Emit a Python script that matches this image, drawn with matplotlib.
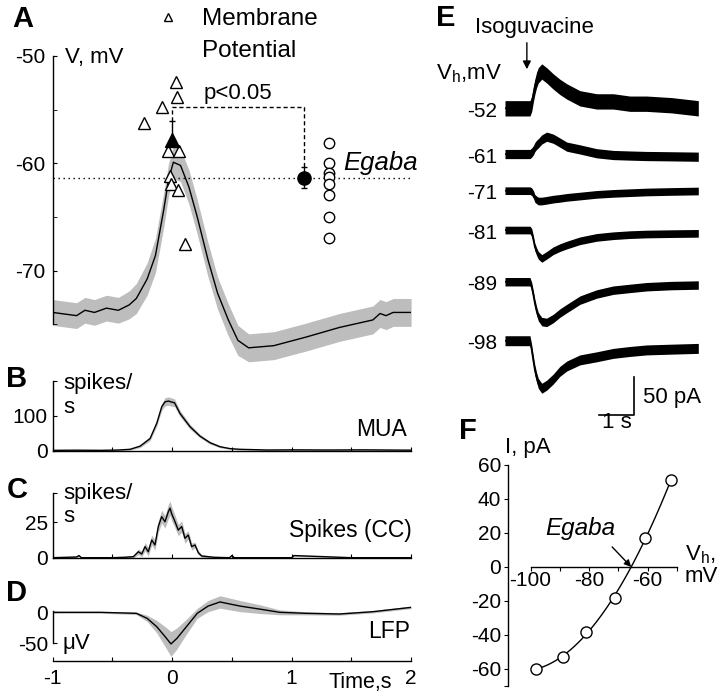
import numpy as np
import matplotlib
matplotlib.use('Agg')
import matplotlib.pyplot as plt
from matplotlib.lines import Line2D

plt.rcParams['font.family'] = 'Liberation Sans'
plt.rcParams['axes.unicode_minus'] = False
plt.rcParams['mathtext.fontset'] = 'custom'
plt.rcParams['mathtext.rm'] = 'Liberation Sans'
plt.rcParams['axes.linewidth'] = 1.0

W, H = 720, 696
GREY = '#bdbdbd'
FS = 15

# ---------------- data ----------------
# A: averaged membrane potential (mV) around the event
t_vm = [-1, -0.80, -0.73, -0.65, -0.55, -0.45, -0.36, -0.30, -0.21, -0.14, -0.07,
        -0.03, 0.01, 0.07, 0.14, 0.21, 0.30, 0.38, 0.47, 0.55, 0.64, 0.85, 1.12,
        1.40, 1.68, 1.74, 1.79, 1.85, 2.0]
vm_mean = [-73.9, -74.2, -73.7, -73.9, -73.5, -73.7, -73.2, -72.6, -70.8, -68.6, -64.3,
           -61.5, -59.9, -60.2, -62.2, -65.0, -69.0, -72.1, -74.6, -76.5, -77.2, -77.0,
           -76.2, -75.3, -74.6, -74.0, -74.2, -73.9, -73.9]
vm_sem = [1.2, 1.2, 1.2, 1.2, 1.2, 1.2, 1.3, 1.4, 1.5, 1.6, 1.6,
          1.5, 1.5, 1.5, 1.6, 1.6, 1.6, 1.5, 1.5, 1.4, 1.3, 1.3,
          1.3, 1.3, 1.3, 1.3, 1.3, 1.3, 1.3]
# peak membrane potential of individual cells
tri_t = [-0.233, -0.088, 0.030, 0.038, -0.032, 0.057, -0.018, -0.013, 0.046, 0.107]
tri_v = [-56.2, -54.8, -52.4, -53.8, -58.9, -58.9, -61.2, -61.9, -62.5, -67.5]
tri_mean, tri_err = -57.8, 1.7
# Egaba of individual cells and mean
egaba_t, egaba_mean, egaba_err = 1.1, -61.34, 1.0
cells_t = 1.31
cells_egaba = [-58.1, -60.0, -60.9, -61.3, -61.9, -63.0, -65.0, -67.0]
bracket_v = -54.72

# B: MUA (spikes/s)
t_mua = [-1, -0.8, -0.6, -0.45, -0.353, -0.269, -0.185, -0.129, -0.087, -0.059, -0.03,
         -0.003, 0.02, 0.066, 0.15, 0.233, 0.317, 0.40, 0.484, 0.568, 0.8, 1.0, 1.3,
         1.6, 2.0]
mua = [1, 1.5, 1, 2, 4, 13, 35, 79, 127, 141, 143, 140, 138, 107, 69, 42, 23, 11.5,
       6, 4, 2, 2.5, 2, 2.5, 1.5]
mua_sem = [1, 1, 1, 1, 2, 4, 6, 8, 10, 12, 12, 12, 11, 9, 7, 5, 4, 3, 2, 2, 1, 1, 1,
           1, 1]

# C: spikes in current clamp (spikes/s)
t_cc = [-1, -0.80, -0.78, -0.76, -0.5, -0.40, -0.325, -0.283, -0.255, -0.227, -0.2,
        -0.171, -0.144, -0.116, -0.088, -0.06, -0.032, -0.018, -0.004, 0.024, 0.051,
        0.08, 0.107, 0.135, 0.163, 0.191, 0.219, 0.247, 0.35, 0.48, 0.50, 0.52, 0.9,
        1.0, 1.02, 1.5, 2.0]
cc = [0, 0.5, 1.5, 0, 0, 0.3, 0.7, 4.2, 2.6, 7.8, 4.2, 12.5, 9, 22, 29, 25.4, 32.5,
      35, 31, 25.4, 19.5, 22, 13.7, 16, 7.8, 9, 3.5, 1.2, 0.3, 0, 1.5, 0, 0, 0, 1.5,
      0, 0]
cc_sem = [0.5] * 6 + [1, 2, 2, 3, 3, 3.5, 3.5, 4, 4.5, 4.5, 5, 5, 5, 4.5, 4, 4, 3.5,
                      3, 2.5, 2, 1.5, 1] + [0.5] * 9

# D: LFP (uV)
t_lfp = [-1, -0.6, -0.3, -0.21, -0.13, -0.06, -0.01, 0.04, 0.12, 0.21, 0.30, 0.40,
         0.57, 0.74, 0.9, 1.12, 1.4, 1.68, 2.0]
lfp = [0, 0, -1.6, -9.7, -23, -39, -51, -42, -23, -1.6, 10, 16.7, 10, 5, 0, -1.6,
       -2.7, 1, 8]
lfp_sem = [1.5, 1.5, 2, 5, 10, 16, 20, 17, 12, 8, 9, 10, 9, 7, 4, 2.5, 2, 2, 2]

# E: isoguvacine-evoked currents (pA) at each holding potential
vh = [-52, -61, -71, -81, -89, -98]
t_e = [0, 0.3, 0.6, 0.72, 0.77, 0.82, 0.86, 0.91, 0.96, 1.06, 1.2, 1.39, 1.58, 1.78,
       2.16, 2.64, 3.12, 3.6, 4.08, 4.8, 5.57]
currents = [
    [0, 0, 0, 0, 6, 19, 28, 37, 43, 48, 43, 35, 28, 22, 13, 9, 9, 6, 6, 4, 0],
    [0, 0, 0, 0, 2, 5, 9, 12, 14, 19, 22.6, 20, 15, 9.6, 6, 1, -1.3, -2, -2.6, -3, -3.5],
    [0, 0, 0, 0, -1.3, -5, -10, -12, -13.5, -13.5, -12.5, -11, -10, -8.7, -7, -4.8, -3.5,
     -2.6, -1.7, -1, -0.4],
    [0, 0, 0, 0, -3, -13, -22, -28, -33, -37, -33, -27, -23, -19.6, -14, -9.6, -7.4, -6,
     -5.2, -4.7, -4.3],
    [0, 0, 0, 0, -6.5, -18, -28, -38, -45.6, -52, -53, -48, -41, -35, -24, -16, -11,
     -8.7, -6.5, -5, -4.3],
    [0, 0, 0, 0, -12, -27, -38, -48, -55.6, -62, -58, -50, -40, -33, -25, -21, -16.5,
     -14, -12, -11, -10],
]
noise_pA = [10, 6, 5, 5, 5.5, 6.5]
isoguvacine_t = 0.63

# F: I-V relation
iv_v = [-98, -89, -81, -71, -61, -52]
iv_i = [-60, -53, -38, -18, 17, 51]

# ---------------- figure ----------------
fig = plt.figure(figsize=(W / 100, H / 100), dpi=100)


def px_axes(x0, y0, x1, y1):
    return fig.add_axes([x0 / W, 1 - y1 / H, (x1 - x0) / W, (y1 - y0) / H])


def ftext(x, y, s, **kw):
    kw.setdefault('fontsize', 16)
    fig.text(x / W, 1 - y / H, s, **kw)


X0, X1 = 52.7, 411.1
steps = np.arange(-1, 2.01, 0.5)

# ---- A ----
axA = px_axes(X0, 56, X1, 365)
axA.set_xlim(-1, 2)
axA.set_ylim(-78.8, -50)
m = np.array(vm_mean)
s = np.array(vm_sem)
axA.fill_between(t_vm, m - s, m + s, color=GREY, lw=0)
axA.plot(t_vm, m, 'k', lw=1)
axA.plot([-1, 2], [egaba_mean, egaba_mean], color='k', lw=1, ls=(0, (1, 2.6)))
axA.plot([0, 0, egaba_t, egaba_t],
         [tri_mean + tri_err, bracket_v, bracket_v, egaba_mean + egaba_err],
         color='k', lw=1, ls=(0, (3, 2)))
axA.plot(tri_t, tri_v, '^', mfc='white', mec='k', ms=8.5, mew=1, clip_on=False)
axA.errorbar([0], [tri_mean], yerr=[[0], [tri_err]], fmt='^', color='k', ms=9.5,
             capsize=2.5, elinewidth=1)
axA.errorbar([egaba_t], [egaba_mean], yerr=egaba_err, fmt='o', color='k', ms=9.5,
             capsize=2.5, elinewidth=1)
axA.plot([cells_t] * len(cells_egaba), cells_egaba, 'o', mfc='white', mec='k',
         ms=7.5, mew=1)
axA.text(egaba_t / 2, bracket_v + 1.27, 'p<0.05', ha='center', va='center', fontsize=16)
axA.text(1.43, -60, 'Egaba', style='italic', fontsize=18.5, va='center')
for side in ['top', 'right', 'bottom']:
    axA.spines[side].set_visible(False)
axA.spines['left'].set_bounds(-75, -50)
axA.set_xticks([])
axA.set_yticks([-70, -60, -50])
axA.set_yticks([-75, -65, -55], minor=True)
axA.tick_params(axis='y', which='both', direction='in', length=3, labelsize=FS, pad=5.5)
leg_handles = [Line2D([], [], marker='^', ls='', mfc='white', mec='k', ms=5.5, mew=1),
               Line2D([], [], ls='')]
axA.legend(leg_handles, ['Membrane', 'Potential'], loc='upper left',
           bbox_to_anchor=(155.9 / W, 1 - 8 / H), bbox_transform=fig.transFigure,
           frameon=False, borderpad=0, borderaxespad=0, handlelength=1,
           handletextpad=0.9, labelspacing=0.4, fontsize=17.5)
ftext(65, 58, 'V, mV', va='center')


def trace_axes(y0, y1, vmin, vmax):
    ax = px_axes(X0, y0, X1, y1)
    ax.set_xlim(-1, 2)
    ax.set_ylim(vmin, vmax)
    ax.spines['top'].set_visible(False)
    ax.spines['right'].set_visible(False)
    ax.set_xticks(steps)
    ax.tick_params(direction='in', length=3, labelsize=FS, pad=3.4)
    return ax


# ---- B ----
axB = trace_axes(378, 451.5, -2.3, 209.5)
m = np.array(mua)
s = np.array(mua_sem)
axB.fill_between(t_mua, m - s, m + s, color=GREY, lw=0)
axB.plot(t_mua, m, 'k', lw=1)
axB.spines['bottom'].set_position(('data', 0))
axB.spines['left'].set_bounds(0, 200)
axB.set_yticks([0, 100, 200], ['0', '100', ''])
axB.set_xticklabels([])

# ---- C ----
axC = trace_axes(490, 559, -0.92, 47.8)
m = np.array(cc)
s = np.array(cc_sem)
axC.fill_between(t_cc, np.maximum(m - s, 0), m + s, color=GREY, lw=0)
axC.plot(t_cc, m, 'k', lw=1)
axC.spines['bottom'].set_position(('data', 0))
axC.spines['left'].set_bounds(0, 45.5)
axC.set_yticks([0, 25, 45.5], ['0', '25', ''])
axC.set_xticklabels([])

# ---- D ----
axD = trace_axes(590, 661, -78.5, 36)
m = np.array(lfp)
s = np.array(lfp_sem)
axD.fill_between(t_lfp, m - s, m + s, color=GREY, lw=0)
axD.plot(t_lfp, m, 'k', lw=1)
axD.spines['left'].set_bounds(-50, 2.5)
axD.set_yticks([-50, 0])
axD.set_xticklabels(['-1', '', '0', '', '1', '', '2'])
axD.tick_params(axis='x', pad=6)
axD.text(0.857, -0.296, 'Time,s', transform=axD.transAxes, ha='center', va='center',
         fontsize=15.5)

ftext(63, 383, 'spikes/', va='center')
ftext(63, 408, 's', va='center')
ftext(407, 429, 'MUA', ha='right', va='center', fontsize=16.5)
ftext(63, 493, 'spikes/', va='center')
ftext(63, 516, 's', va='center')
ftext(412, 530, 'Spikes (CC)', ha='right', va='center', fontsize=16.5)
ftext(410, 632, 'LFP', ha='right', va='center', fontsize=16.5)
ftext(62, 643, '\u03bcV', va='center')

# ---- E ----
axE = px_axes(505, 30, 698.3, 430)
axE.set_xlim(0, 5.57)
axE.set_ylim(-521.5, 0)
axE.axis('off')
offsets = [-102.1, -161.7, -209.5, -260.8, -328.2, -405.1]
for v, cur, nz, off in zip(vh, currents, noise_pA, offsets):
    c = np.array(cur) + off
    axE.fill_between(t_e, c - nz, c + nz, color='k', lw=0)
    axE.plot(t_e, c, 'k', lw=1.2)
    axE.text(-0.23, off - 4, str(v), ha='right', va='center', fontsize=FS)
axE.annotate('', xy=(isoguvacine_t, -54.8), xytext=(isoguvacine_t, -13),
             arrowprops=dict(arrowstyle='-|>', color='k', lw=1, mutation_scale=12))
bar_x, bar_y = 3.72, -502
axE.plot([bar_x - 1, bar_x, bar_x], [bar_y, bar_y, bar_y + 50], 'k', lw=1.2)
ftext(643, 397, '50 pA', va='center')
ftext(617, 422, '1 s', ha='center', va='center')
ftext(475, 27, 'Isoguvacine', va='center')
ftext(502, 74, 'V$_\\mathregular{h}$,mV', ha='right', va='center')

# ---- F ----
axF = px_axes(508, 460, 690, 690)
axF.set_xlim(-107.68, -45.56)
axF.set_ylim(-72.4, 62.9)
coef = np.polyfit(iv_v, iv_i, 3)
vv = np.linspace(min(iv_v), max(iv_v), 200)
axF.plot(vv, np.polyval(coef, vv), 'k', lw=1)
axF.plot(iv_v, iv_i, 'o', mfc='white', mec='k', ms=8, mew=1)
roots = np.roots(coef)
rev = [r.real for r in roots if abs(r.imag) < 1e-9 and min(iv_v) < r.real < max(iv_v)][0]
axF.annotate('', xy=(rev, 0), xytext=(-13.7, 14.4), textcoords='offset points',
             arrowprops=dict(arrowstyle='-|>', color='k', lw=1, mutation_scale=10,
                             shrinkA=0, shrinkB=0))
axF.spines['top'].set_visible(False)
axF.spines['right'].set_visible(False)
axF.spines['bottom'].set_position(('data', 0))
axF.spines['bottom'].set_bounds(-100, -50)
axF.spines['left'].set_bounds(-70, 60)
axF.set_xticks(np.arange(-100, -49, 10), ['-100', '', '-80', '', '-60', ''])
axF.set_yticks([-70, -60, -40, -20, 0, 20, 40, 60],
               ['', '-60', '-40', '-20', '0', '20', '40', '60'])
axF.tick_params(direction='out', length=3, labelsize=FS)
axF.tick_params(axis='x', pad=0)
axF.tick_params(axis='y', pad=2)
ftext(580, 529, 'Egaba', style='italic', ha='center', va='center', fontsize=17.5)
ftext(505, 448, 'I, pA', va='center')
ftext(685, 555, 'V$_\\mathregular{h}$,', va='center')
ftext(685, 577, 'mV', va='center')

# panel letters
for letter, x, y in [('A', 23, 19), ('B', 17, 379), ('C', 17, 490), ('D', 17, 593),
                     ('E', 446, 18), ('F', 468, 431)]:
    ftext(x, y, letter, fontsize=21, weight='bold', ha='center', va='center')

fig.savefig('out.png', dpi=100)
